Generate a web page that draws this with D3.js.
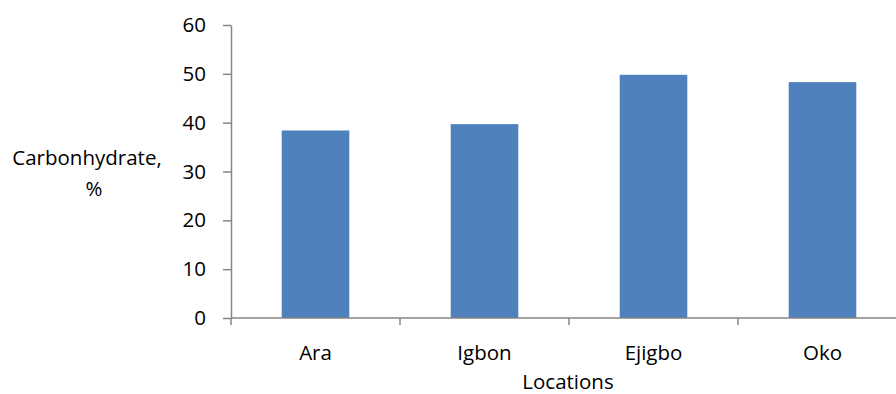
<!DOCTYPE html>
<html><head><meta charset="utf-8">
<script src="https://cdn.jsdelivr.net/npm/d3@7"></script>
<style>body{margin:0;background:#fff}svg{display:block}text{font-family:"Open Sans",sans-serif;fill:#000}</style>
</head><body><svg id="c" width="896" height="394"></svg>
<script>
const categories = ["Ara", "Igbon", "Ejigbo", "Oko"];
const values = [38.4, 39.7, 49.8, 48.3];
const yTicks = [0, 10, 20, 30, 40, 50, 60];

const svg = d3.select("#c");
const x0 = 231, yTop = 25, yBot = 318, band = 169;
const fs = "20.5px";
const x = d3.scaleBand().domain(categories).range([x0, x0 + band * categories.length]).paddingInner(0.6).paddingOuter(0.3);
const y = d3.scaleLinear().domain([0, 60]).range([yBot, yTop]);
const axisColor = "#868686";

svg.selectAll("rect.bar").data(categories).join("rect")
  .attr("class", "bar")
  .attr("x", d => x(d)).attr("width", x.bandwidth())
  .attr("y", (d, i) => y(values[i])).attr("height", (d, i) => yBot - y(values[i]))
  .attr("fill", "#4f81bd");

const yAxis = svg.append("g").attr("transform", `translate(${x0},0)`)
  .call(d3.axisLeft(y).tickValues(yTicks).tickSize(8).tickPadding(17).tickSizeOuter(0));
yAxis.select(".domain").attr("stroke", axisColor).attr("stroke-width", 1.5);
yAxis.selectAll(".tick line").attr("stroke", axisColor).attr("stroke-width", 1.5);
yAxis.selectAll(".tick text").style("font-size", fs).attr("fill", "#000");

// category axis
const xs = d3.scaleLinear().domain([0, categories.length]).range([x0, x0 + band * categories.length]);
const gx = svg.append("g").attr("transform", `translate(0,${yBot})`);
gx.append("line").attr("x1", x0).attr("x2", 896).attr("stroke", axisColor).attr("stroke-width", 1.5);
gx.selectAll("line.t").data(d3.range(categories.length + 1)).join("line").attr("class", "t")
  .attr("x1", d => xs(d)).attr("x2", d => xs(d)).attr("y1", 0).attr("y2", 7)
  .attr("stroke", axisColor).attr("stroke-width", 1.5);
gx.selectAll("text").data(categories).join("text")
  .attr("x", d => x(d) + x.bandwidth() / 2).attr("y", 42)
  .attr("text-anchor", "middle").style("font-size", fs).text(d => d);

svg.append("text").attr("x", 568).attr("y", 389).attr("text-anchor", "middle").style("font-size", fs).text("Locations");
svg.append("text").attr("x", 87).attr("y", 165).attr("text-anchor", "middle").style("font-size", fs).text("Carbonhydrate,");
svg.append("text").attr("x", 94).attr("y", 196).attr("text-anchor", "middle").style("font-size", fs).text("%");
</script></body></html>
